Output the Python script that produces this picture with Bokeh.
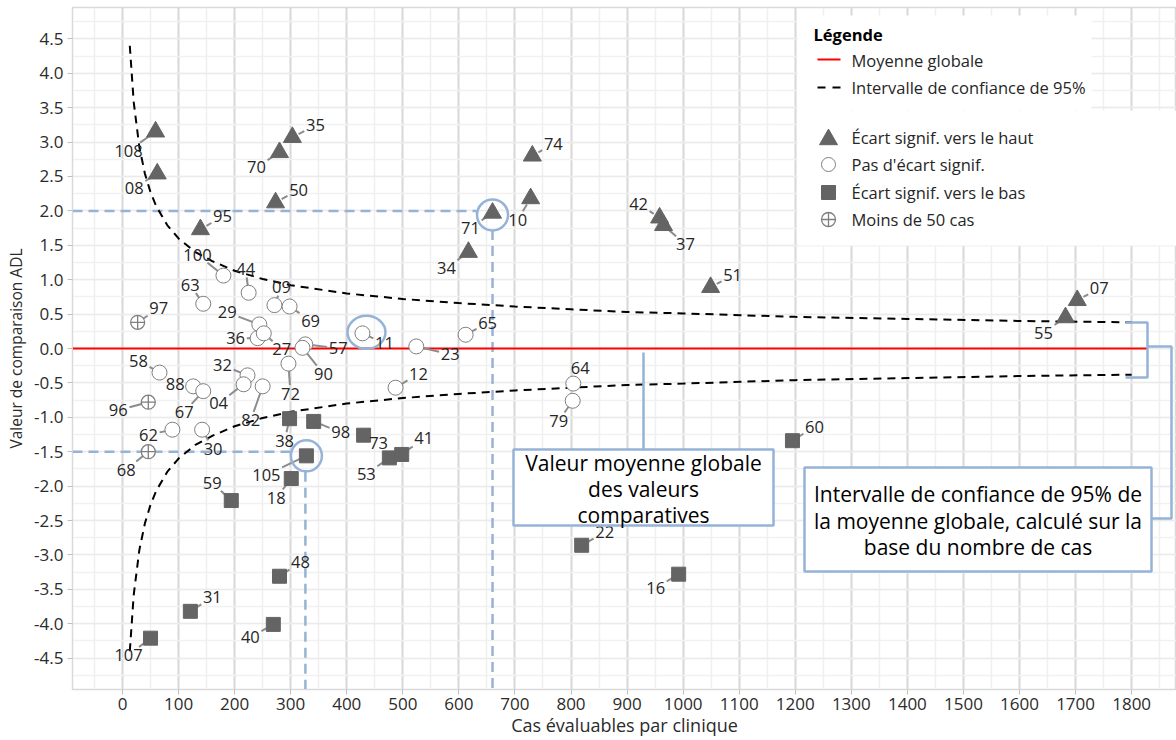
import math
from bokeh.plotting import figure
from bokeh.models import Range1d, FixedTicker, NumeralTickFormatter, ColumnDataSource
from bokeh.core.properties import value
from bokeh.embed import file_html
from bokeh.resources import INLINE

# ---------------- data ----------------
up_ids = ["108", "08", "35", "70", "50", "95", "71", "10", "74", "34", "42", "37", "51", "07", "55"]
up_x = [59, 62, 303, 280, 273, 139, 660, 728, 731, 617, 958, 965, 1049, 1703, 1682]
up_y = [3.15, 2.54, 3.07, 2.85, 2.12, 1.73, 1.97, 2.18, 2.80, 1.40, 1.90, 1.79, 0.89, 0.70, 0.45]

ns_ids = ["100", "44", "63", "09", "69", "29", "36", "27", "57", "90", "11", "23", "65",
          "12", "64", "79", "58", "88", "67", "32", "04", "82", "72", "62", "30"]
ns_x = [180, 225, 144, 271, 298, 244, 241, 252, 326, 321, 428, 524, 612,
        487, 804, 803, 66, 126, 144, 223, 216, 250, 296, 89, 142]
ns_y = [1.06, 0.81, 0.65, 0.63, 0.61, 0.35, 0.15, 0.22, 0.06, 0.01, 0.22, 0.03, 0.20,
        -0.57, -0.51, -0.76, -0.35, -0.55, -0.62, -0.39, -0.52, -0.55, -0.22, -1.18, -1.18]

few_ids = ["97", "96", "68"]
few_x = [27, 46, 46]
few_y = [0.38, -0.78, -1.50]

down_ids = ["38", "98", "105", "18", "59", "48", "31", "40", "107", "73", "53", "41", "22", "16", "60"]
down_x = [298, 341, 328, 301, 194, 280, 121, 269, 50, 430, 476, 498, 819, 992, 1195]
down_y = [-1.02, -1.06, -1.56, -1.89, -2.21, -3.31, -3.82, -4.01, -4.21, -1.26, -1.59, -1.54, -2.86, -3.28, -1.34]

global_mean = 0.0
ci_n = [13, 20, 30, 40, 50, 60, 80, 100, 130, 160, 200, 250, 300, 400, 500, 600, 700, 800,
        900, 1000, 1200, 1400, 1600, 1800]
ci_upper = [4.40, 3.58, 2.93, 2.54, 2.27, 2.07, 1.79, 1.60, 1.40, 1.27, 1.13, 1.01, 0.92, 0.80,
            0.72, 0.66, 0.61, 0.57, 0.53, 0.51, 0.46, 0.43, 0.40, 0.38]
ci_lower = [-4.40, -3.58, -2.93, -2.54, -2.27, -2.07, -1.79, -1.60, -1.40, -1.27, -1.13, -1.01, -0.92, -0.80,
            -0.72, -0.66, -0.61, -0.57, -0.53, -0.51, -0.46, -0.43, -0.40, -0.38]

x_ticks = list(range(0, 1900, 100))
y_ticks = [-4.5, -4.0, -3.5, -3.0, -2.5, -2.0, -1.5, -1.0, -0.5, 0.0, 0.5, 1.0, 1.5, 2.0, 2.5, 3.0, 3.5, 4.0, 4.5]

box1_lines = ["Valeur moyenne globale", "des valeurs", "comparatives"]
box2_lines = ["Intervalle de confiance de 95% de", "la moyenne globale, calculé sur la", "base du nombre de cas"]
leg_texts = ["Moyenne globale", "Intervalle de confiance de 95%", "Écart signif. vers le haut",
             "Pas d'écart signif.", "Écart signif. vers le bas", "Moins de 50 cas"]

# label placement (screen px offsets of label centre from marker centre)
label_offsets = {
    "108": (-27, 19), "08": (-23, 14), "35": (23, -12), "70": (-23, 15), "50": (23, -13), "95": (22, -13),
    "71": (-22, 15), "10": (-13, 21), "74": (21, -12), "34": (-22, 16), "42": (-21, -14), "37": (22, 19),
    "51": (22, -12), "07": (22, -12), "55": (-22, 15),
    "100": (-26, -21), "44": (-3, -24), "63": (-13, -19), "09": (7, -18), "69": (21, 14), "29": (-32, -12),
    "36": (-22, 0), "27": (18, 16), "57": (33, 4), "90": (21, 26), "11": (22, 10), "23": (34, 8),
    "65": (22, -12), "12": (23, -14), "64": (7, -16), "79": (-14, 20), "58": (-21, -12), "88": (-18, -2),
    "67": (-19, 21), "32": (-25, -10), "04": (-25, 19), "82": (-12, 34), "72": (2, 30), "62": (-24, 5),
    "30": (11, 19), "97": (21, -14), "96": (-30, 8), "68": (-22, 18),
    "38": (-5, 22), "98": (27, 11), "105": (-40, 19), "18": (-15, 19), "59": (-19, -18), "48": (21, -14),
    "31": (22, -14), "40": (-23, 13), "107": (-22, 17), "73": (15, 8), "53": (-23, 16), "41": (22, -16),
    "22": (23, -13), "16": (-23, 14), "60": (22, -14),
}

# ---------------- geometry ----------------
FL, FR, FT, FB = 72, 1176, 7, 689
XMIN, XMAX = -89.2, 1880.0
YMIN, YMAX = -4.956, 4.956
KX = (FR - FL) / (XMAX - XMIN)
KY = (FB - FT) / (YMAX - YMIN)


def X(px):
    return XMIN + (px - FL) / KX


def Y(py):
    return YMAX - (py - FT) / KY


FONT = "Open Sans"
BLUE = "#95b3d7"
GREY = "#646464"
TXT = "#262626"

p = figure(width=1176, height=740, x_range=Range1d(XMIN, XMAX), y_range=Range1d(YMIN, YMAX),
           output_backend="svg", toolbar_location=None,
           min_border_left=FL, min_border_right=0, min_border_top=FT, min_border_bottom=740 - FB)
p.outline_line_color = "#d9d9d9"
p.outline_line_width = 1.5

p.xaxis.ticker = FixedTicker(ticks=x_ticks, minor_ticks=list(range(-50, 1900, 50)))
p.yaxis.ticker = FixedTicker(ticks=y_ticks, minor_ticks=[v / 4 for v in range(-19, 20)])
p.yaxis.formatter = NumeralTickFormatter(format="0.0")
for ax in (p.xaxis, p.yaxis):
    ax.axis_line_color = "#d9d9d9"
    ax.major_tick_line_color = "#bfbfbf"
    ax.major_tick_out = 5
    ax.major_tick_in = 0
    ax.minor_tick_out = 0
    ax.minor_tick_in = 0
    ax.major_label_text_font = FONT
    ax.major_label_text_font_size = "17px"
    ax.major_label_text_color = "#2b2b2b"
    ax.axis_label_text_font = FONT
    ax.axis_label_text_font_style = "normal"
    ax.axis_label_text_color = "#2b2b2b"
p.xaxis.axis_label_text_font_size = "18px"
p.yaxis.axis_label_text_font_size = "15.5px"
p.xaxis.axis_label = "Cas évaluables par clinique"
p.yaxis.axis_label = "Valeur de comparaison ADL"
p.xaxis.major_label_standoff = 3
p.xaxis.axis_label_standoff = 0
p.yaxis.major_label_standoff = 4
p.yaxis.axis_label_standoff = 4

p.xgrid.grid_line_color = "#d9d9d9"
p.xgrid.grid_line_width = 2
p.xgrid.minor_grid_line_color = "#efefef"
p.xgrid.minor_grid_line_width = 1.5
p.ygrid.grid_line_color = "#ebebeb"
p.ygrid.grid_line_width = 1.5
p.ygrid.minor_grid_line_color = "#f1f1f1"
p.ygrid.minor_grid_line_width = 1.5

# ---------- blue highlight dashed references ----------
x71 = up_x[up_ids.index("71")]
y71 = up_y[up_ids.index("71")]
x105 = down_x[down_ids.index("105")]
y105 = down_y[down_ids.index("105")]
x11 = ns_x[ns_ids.index("11")]
y11 = ns_y[ns_ids.index("11")]
p.line([XMIN, x71 - 16 / KX], [2.0, 2.0], line_color=BLUE, line_width=2.5, line_dash="10 6")
p.line([x71, x71], [y71 - 17 / KY, YMIN], line_color=BLUE, line_width=2.5, line_dash="10 6")
p.line([XMIN, x105 - 16 / KX], [-1.5, -1.5], line_color=BLUE, line_width=2.5, line_dash="10 6")
p.line([x105 - 1 / KX, x105 - 1 / KX], [y105 - 16 / KY, YMIN], line_color=BLUE, line_width=2.5, line_dash="10 6")

# ---------- mean and CI ----------
p.line([XMIN, X(1147)], [global_mean, global_mean], line_color="#ff0000", line_width=2)
p.line(ci_n, ci_upper, line_color="black", line_width=2, line_dash="8 6")
p.line(ci_n, ci_lower, line_color="black", line_width=2, line_dash="8 6")

# ---------- leaders ----------
all_ids = up_ids + ns_ids + few_ids + down_ids
all_x = up_x + ns_x + few_x + down_x
all_y = up_y + ns_y + few_y + down_y
radii = [8] * len(up_ids) + [7] * len(ns_ids) + [7] * len(few_ids) + [7] * len(down_ids)
lx0, ly0, lx1, ly1 = [], [], [], []
for i, t in enumerate(all_ids):
    dx, dy = label_offsets[t]
    L = math.hypot(dx, dy)
    ux, uy = dx / L, dy / L
    hw = 4.6 * len(t) + 1
    hh = 7.5
    tt = min(hw / abs(ux) if ux else 1e9, hh / abs(uy) if uy else 1e9)
    s = radii[i] - 1
    e = L - tt - 1
    if e - s < 3:
        continue
    lx0.append(all_x[i] + s * ux / KX)
    ly0.append(all_y[i] - s * uy / KY)
    lx1.append(all_x[i] + e * ux / KX)
    ly1.append(all_y[i] - e * uy / KY)
p.segment(lx0, ly0, lx1, ly1, line_color="#8c8c8c", line_width=2)

# ---------- markers ----------
p.scatter(up_x, up_y, marker="triangle", size=18, fill_color=GREY, line_color=GREY)
p.scatter(ns_x, ns_y, marker="circle", size=15, fill_color="white", line_color="#7f7f7f", line_width=1)
p.scatter(few_x, few_y, marker="circle_cross", size=14, fill_color="white", line_color="#7f7f7f", line_width=1.3)
p.scatter(down_x, down_y, marker="square", size=14, fill_color=GREY, line_color=GREY)

# highlight rings
p.scatter([x71, x105], [y71 - 2 / KY, y105], marker="circle", size=31, fill_alpha=0,
          line_color=BLUE, line_width=2.5)
p.ellipse([x11 + 4 / KX], [y11 + 1 / KY], width=38, height=33, width_units="screen", height_units="screen",
          fill_alpha=0, line_color=BLUE, line_width=2.5)

# ---------- point labels ----------
src = ColumnDataSource(dict(x=all_x, y=all_y, t=all_ids,
                            xo=[label_offsets[t][0] for t in all_ids],
                            yo=[label_offsets[t][1] for t in all_ids]))
p.text("x", "y", text="t", x_offset="xo", y_offset="yo", source=src, text_font=value(FONT),
       text_font_size="16.5px", text_color=TXT, text_align="center", text_baseline="middle")

# ---------- callout boxes ----------
p.line([X(643), X(643)], [Y(352), Y(449)], line_color=BLUE, line_width=2.5)
p.quad(left=[X(513)], right=[X(773)], top=[Y(449)], bottom=[Y(525)], fill_color="white",
       line_color=BLUE, line_width=2.5)
p.text([X(643)] * 3, [Y(v) for v in (462, 488, 514)], text=box1_lines,
       text_font=value(FONT), text_font_size="21px", text_color="black", text_align="center",
       text_baseline="middle")

# bracket
p.multi_line([[X(1125), X(1147), X(1147), X(1125)], [X(1147), X(1171), X(1171), X(1151)]],
             [[Y(322), Y(322), Y(377), Y(377)], [Y(346), Y(346), Y(518), Y(518)]],
             line_color=BLUE, line_width=2.5)
p.quad(left=[X(804)], right=[X(1151)], top=[Y(467)], bottom=[Y(571)], fill_color="white",
       line_color=BLUE, line_width=2.5)
p.text([X(977.5)] * 3, [Y(v) for v in (493, 520, 546)], text=box2_lines,
       text_font=value(FONT), text_font_size="21px", text_color="black", text_align="center",
       text_baseline="middle")

# ---------- legend ----------
p.quad(left=[X(797), X(797)], right=[X(1091), X(1190)], top=[Y(15), Y(110)], bottom=[Y(110), Y(245)],
       fill_color="white", line_alpha=0)
p.text([X(813)], [Y(34)], text=["Légende"], text_font=value(FONT), text_font_size="16.5px",
       text_font_style="bold", text_color="black", text_align="left", text_baseline="middle")
p.line([X(817), X(840)], [Y(59), Y(59)], line_color="#ff0000", line_width=2)
p.line([X(817), X(842)], [Y(87), Y(87)], line_color="black", line_width=2, line_dash="8 7")
p.scatter([X(828)], [Y(139)], marker="triangle", size=18, fill_color=GREY, line_color=GREY)
p.scatter([X(828)], [Y(164)], marker="circle", size=14, fill_color="white", line_color="#7f7f7f")
p.scatter([X(828)], [Y(192)], marker="square", size=14, fill_color=GREY, line_color=GREY)
p.scatter([X(828)], [Y(219)], marker="circle_cross", size=14, fill_color="white", line_color="#7f7f7f",
          line_width=1.3)
leg_py = [60, 87, 137, 164, 192, 219]
p.text([X(851)] * 6, [Y(v) for v in leg_py], text=leg_texts, text_font=value(FONT), text_font_size="16.5px",
       text_color=TXT, text_align="left", text_baseline="middle")

open("out.html", "w").write(file_html(p, INLINE))
